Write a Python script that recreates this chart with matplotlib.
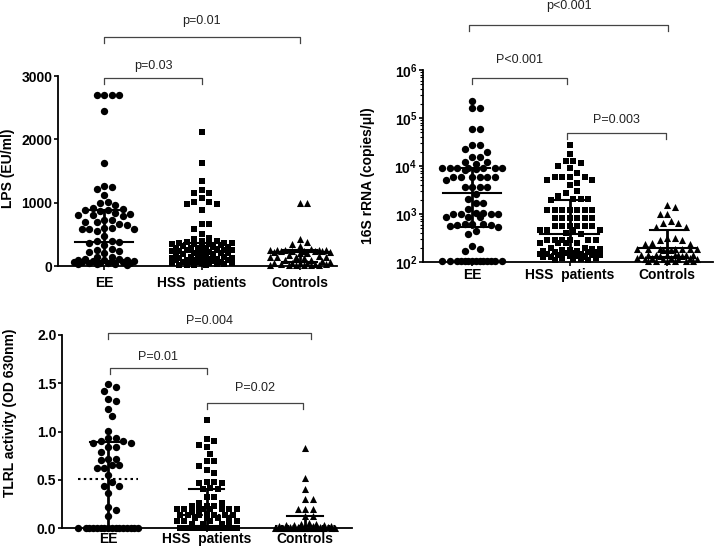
import numpy as np
import matplotlib
matplotlib.use("Agg")
import matplotlib.pyplot as plt

plt.rcParams['font.family'] = ['Liberation Sans', 'DejaVu Sans']
plt.rcParams['mathtext.fontset'] = 'custom'
plt.rcParams['mathtext.rm'] = 'Liberation Sans'
plt.rcParams['mathtext.bf'] = 'Liberation Sans:bold'

groups = ['EE', 'HSS  patients', 'Controls']
markers = ['o', 's', '^']
msizes = [28, 18, 26]

# LPS (EU/ml)
lps_ee = [2700, 2700, 2700, 2700, 2450, 1630, 1260, 1240, 1220, 1120, 1010, 990, 970,
          910, 900, 890, 880, 870, 830, 820, 810, 800, 790, 730, 720, 700, 690, 660, 650,
          600, 600, 590, 590, 580, 560, 470, 400, 390, 380, 370, 330, 270, 260, 230, 220,
          210, 150, 140, 110, 105, 100, 95, 90, 85, 80, 75, 70, 65, 60, 55, 50, 45, 40,
          35, 30, 25, 20]
lps_hss = [2120, 1630, 1350, 1200, 1150, 1150, 1070, 1010, 1010, 980, 980, 880, 660, 660,
           580, 510, 450, 430, 400, 390, 380, 370, 370, 360, 350, 350, 340, 330, 320, 310,
           300, 300, 290, 290, 280, 280, 270, 260, 250, 250, 240, 230, 220, 220, 210, 200,
           200, 190, 180, 170, 160, 160, 150, 140, 130, 130, 120, 120, 110, 110, 100, 100,
           90, 90, 80, 80, 70, 70, 60, 60, 50, 50, 40, 40, 30, 30, 20, 20, 10, 10]
lps_ctrl = [1000, 1000, 430, 380, 350, 310, 270, 260, 260, 250, 250, 250, 240, 240, 240,
            230, 230, 220, 220, 210, 200, 180, 160, 150, 150, 140, 140, 120, 100, 90, 80,
            60, 50, 50, 40, 40, 30, 30, 30, 20, 20, 20, 10, 10, 10]
lps_stats = [(380, 80, 890), (220, 90, 370), (220, 60, 260)]  # median, q1, q3

# 16S rRNA (copies/ul)
rna_ee = [230000, 160000, 160000, 58000, 58000, 27000, 27000, 23000, 20000, 15600, 15600,
          12000, 12000, 11000, 9000, 9000, 9000, 9000, 9000, 9000, 9000, 8800, 8300, 6000,
          6000, 6000, 6000, 6000, 6000, 5000, 3600, 3600, 3600, 3600, 2600, 2050, 1700,
          1700, 1260, 1040, 1030, 1020, 1010, 1000, 990, 870, 870, 870, 620, 620, 610, 600,
          600, 550, 540, 450, 390, 215, 186, 170,
          107, 107, 107, 107, 107, 107, 107, 107, 107, 107, 107, 107, 107, 107]
rna_hss = [27000, 18000, 13000, 13000, 11800, 10000, 9000, 7200, 6000, 6000, 6000, 6000,
           5100, 5100, 4400, 4000, 3000, 2800, 2400, 2100, 2100, 2050, 2000,
           1200, 1200, 1200, 1200, 1200, 1200, 1200, 820, 820, 820, 820, 820, 820,
           550, 550, 550, 550, 550, 550, 470, 470, 470, 470, 400, 390,
           290, 290, 290, 290, 290, 290, 245, 245, 245, 245,
           200, 195, 190, 185, 180, 175, 170, 168, 165, 160, 158, 155, 152, 150, 148, 145,
           142, 140, 138, 135, 132, 130, 128, 125, 122, 120, 118, 115, 112, 110]
rna_ctrl = [1540, 1400, 1000, 1000, 725, 640, 640, 530, 530, 310, 310, 290, 290, 250, 237,
            237, 190, 190, 188, 188, 186, 186, 184, 184, 182, 182, 140, 140, 140, 140, 138,
            138, 138, 138, 136, 136, 120, 120, 120, 120, 118, 118, 118, 118,
            106, 106, 106, 106, 106, 106]
rna_stats = [(2700, 530, 9000), (390, 150, 2000), (195, 130, 470)]

# TLRL activity (OD 630nm)
tlr_ee = [1.49, 1.46, 1.42, 1.34, 1.32, 1.23, 1.16, 1.01, 0.93, 0.93, 0.90, 0.90, 0.88,
          0.88, 0.84, 0.84, 0.79, 0.72, 0.72, 0.70, 0.65, 0.65, 0.62, 0.62, 0.55, 0.48,
          0.44, 0.44, 0.36, 0.22, 0.19, 0.12,
          0, 0, 0, 0, 0, 0, 0, 0, 0, 0, 0, 0, 0, 0, 0, 0]
tlr_hss = [1.12, 0.92, 0.90, 0.86, 0.84, 0.77, 0.69, 0.69, 0.64, 0.60, 0.57, 0.48, 0.48,
           0.47, 0.47, 0.41, 0.40, 0.40, 0.32, 0.32, 0.26, 0.26, 0.23, 0.23, 0.23,
           0.20, 0.20, 0.20, 0.20, 0.20, 0.20, 0.20, 0.20, 0.17, 0.15,
           0.13, 0.13, 0.13, 0.13, 0.13, 0.13, 0.10, 0.10, 0.10, 0.10, 0.07, 0.07, 0.07,
           0.07, 0.04, 0.04, 0.04, 0.04,
           0, 0, 0, 0, 0, 0, 0, 0, 0, 0, 0, 0, 0, 0, 0, 0]
tlr_ctrl = [0.83, 0.52, 0.40, 0.30, 0.30, 0.20, 0.20, 0.20, 0.12, 0.12, 0.05, 0.04, 0.04,
            0.03, 0.03, 0.03, 0.02, 0.02, 0.02, 0.02, 0.01, 0.01, 0.01, 0.01,
            0, 0, 0, 0, 0, 0, 0, 0, 0, 0, 0, 0, 0, 0, 0, 0]
tlr_stats = [(0.51, 0, 0.89), (0.13, 0.02, 0.40), (0.02, 0, 0.12)]


def swarm(ax, x0, vals, d=7.5, w=30):
    # greedy beeswarm in pixel space
    vals = np.asarray(vals, float)
    ys = ax.transData.transform(np.column_stack([np.full(len(vals), x0), vals]))[:, 1]
    ppu = ax.transData.transform((1, 0))[0] - ax.transData.transform((0, 0))[0]
    order = np.argsort(-ys)
    offs = np.zeros(len(vals))
    placed = []
    cands = [0.0]
    k = 1
    while k * d / 2 <= w:
        cands += [k * d / 2, -k * d / 2]
        k += 1
    for i in order:
        y = ys[i]
        best, bestd = 0.0, -1
        for c in cands:
            md = min([np.hypot(c - px, y - py) for px, py in placed] + [1e9])
            if md >= d:
                best = c
                break
            if md > bestd:
                best, bestd = c, md
        placed.append((best, y))
        offs[i] = best
    return x0 + offs / ppu


def draw_panel(ax, data, stats, ylabel, labxy, xpad, dotted=False):
    for i, (vals, st) in enumerate(zip(data, stats)):
        xs = swarm(ax, i, vals)
        ax.scatter(xs, vals, marker=markers[i], s=msizes[i], c='black', lw=0, clip_on=False,
                   zorder=3)
        med, q1, q3 = st
        ax.plot([i, i], [max(q1, ax.get_ylim()[0]), q3], color='black', lw=2, zorder=4, clip_on=False)
        ax.plot([i - 0.18, i + 0.18], [q3, q3], color='black', lw=1.5, zorder=4)
        if q1 > ax.get_ylim()[0]:
            ax.plot([i - 0.18, i + 0.18], [q1, q1], color='black', lw=1.5, zorder=4)
        ax.plot([i - 0.3, i + 0.3], [med, med], color='black', lw=1.5, zorder=4,
                ls=(0, (1.2, 1.6)) if dotted else '-')
    ax.set_xticks(range(3))
    ax.set_xticklabels(groups, fontsize=10, fontweight='bold')
    ax.set_ylabel(ylabel, fontsize=10, fontweight='bold')
    ax.yaxis.set_label_coords(*labxy)
    for s in ['top', 'right']:
        ax.spines[s].set_visible(False)
    for s in ['left', 'bottom']:
        ax.spines[s].set_linewidth(1.3)
    ax.tick_params(axis='y', width=1.2, length=3, pad=1, labelsize=10)
    ax.tick_params(axis='x', width=1.2, length=3, pad=xpad, labelsize=10)
    for t in ax.get_yticklabels():
        t.set_fontweight('bold')


def bracket(ax, x1, x2, yf, text, ty):
    tr = ax.get_xaxis_transform()
    h = 0.03
    ax.plot([x1, x1, x2, x2], [yf - h, yf, yf, yf - h], color='#444444', lw=0.9,
            transform=tr, clip_on=False)
    ax.text((x1 + x2) / 2, ty, text, transform=tr, ha='center', va='center', fontsize=9,
            color='#222222')


fig = plt.figure(figsize=(7.14, 5.5), dpi=100)

axA = fig.add_axes([58 / 714, (550 - 266) / 550, (337 - 58) / 714, 190 / 550])
axA.set_xlim(-0.47, 2.38)
axA.set_ylim(0, 3000)
axA.set_yticks([0, 1000, 2000, 3000])
draw_panel(axA, [lps_ee, lps_hss, lps_ctrl], lps_stats, 'LPS (EU/ml)', (-0.154, 0.516), 4.3)
bracket(axA, 0, 2, 1.205, 'p=0.01', 1.29)
bracket(axA, 0, 1, 0.989, 'p=0.03', 1.053)

axB = fig.add_axes([423 / 714, (550 - 262) / 550, (713 - 423) / 714, 192 / 550])
axB.set_yscale('log')
axB.set_xlim(-0.503, 2.47)
axB.set_ylim(100, 1e6)
axB.set_yticks([1e2, 1e3, 1e4, 1e5, 1e6])
axB.set_yticklabels([r'$\mathbf{10^{%d}}$' % k for k in range(2, 7)])
draw_panel(axB, [rna_ee, rna_hss, rna_ctrl], rna_stats, '16S rRNA (copies/\u03bcl)',
           (-0.165, 0.45), 1.4)
axB.tick_params(which='minor', length=2, width=0.8)
bracket(axB, -0.03, 2.01, 1.234, 'p<0.001', 1.335)
bracket(axB, 0, 0.97, 0.958, 'P<0.001', 1.052)
bracket(axB, 0.97, 1.99, 0.672, 'P=0.003', 0.74)

axC = fig.add_axes([62 / 714, (550 - 528) / 550, (352 - 62) / 714, 193 / 550])
axC.set_xlim(-0.467, 2.477)
axC.set_ylim(0, 2.0)
axC.set_yticks([0, 0.5, 1.0, 1.5, 2.0])
axC.set_yticklabels(['0.0', '0.5', '1.0', '1.5', '2.0'])
draw_panel(axC, [tlr_ee, tlr_hss, tlr_ctrl], tlr_stats, 'TLRL activity (OD 630nm)',
           (-0.155, 0.596), 0, dotted=True)
bracket(axC, 0, 2.06, 1.01, 'P=0.004', 1.074)
bracket(axC, 0.02, 1.0, 0.829, 'P=0.01', 0.888)
bracket(axC, 1.0, 1.98, 0.648, 'P=0.02', 0.725)

fig.savefig('out.png', dpi=100)
